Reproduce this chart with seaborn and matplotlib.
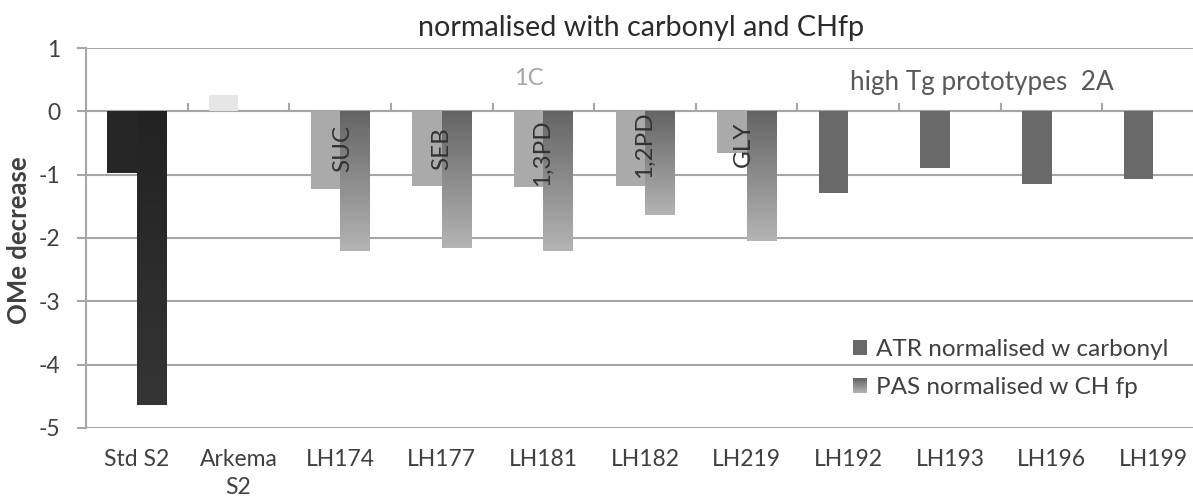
import numpy as np
import pandas as pd
import matplotlib
matplotlib.use("Agg")
import matplotlib.pyplot as plt
import seaborn as sns
from matplotlib.patches import Rectangle
from matplotlib.legend_handler import HandlerBase
from matplotlib.colors import LinearSegmentedColormap

# ---------------- data ----------------
samples = ["Std S2", "Arkema\nS2", "LH174", "LH177", "LH181", "LH182", "LH219",
           "LH192", "LH193", "LH196", "LH199"]
atr_values = [-0.97, 0.26, -1.22, -1.18, -1.19, -1.18, -0.66, -1.29, -0.89, -1.15, -1.07]
pas_values = [-4.63, np.nan, -2.20, -2.16, -2.20, -1.64, -2.05, np.nan, np.nan, np.nan, np.nan]
series_names = ["ATR normalised w carbonyl", "PAS normalised w CH fp"]
diol_labels = ["", "", "SUC", "SEB", "1,3PD", "1,2PD", "GLY", "", "", "", ""]
y_ticks = [1, 0, -1, -2, -3, -4, -5]

# ---------------- style ----------------
atr_colors = ["#262626", "#E6E6E6"] + ["#AAAAAA"] * 5 + ["#696969"] * 4
pas_grad = {0: ("#222222", "#353535")}
pas_grad_default = ("#646464", "#B4B4B4")
diol_label_base = [None, None, -0.95, -0.93, -1.18, -1.06, -0.88]
diol_label_dx = [0, 0, 0.03, 0.0, -0.01, -0.01, -0.03]
grid_c = "#A6A6A6"
txt_c = "#404040"
FONT = "Lato"
FS_TICK = 16.5
FS_TITLE = 20.7
FS_LEG = 17.5
FS_YLAB = 18.5
FS_DIOL = 17.5

sns.set_theme(style="white")
plt.rcParams["font.family"] = [FONT, "DejaVu Sans"]

df = pd.DataFrame({
    "sample": samples * 2,
    "value": atr_values + pas_values,
    "series": [series_names[0]] * len(samples) + [series_names[1]] * len(samples),
})

fig = plt.figure(figsize=(11.93, 5.04), dpi=100)
ax = fig.add_axes([86 / 1193, 76 / 504, 1118 / 1193, 380 / 504])

sns.barplot(data=df, x="sample", y="value", hue="series", order=samples,
            hue_order=series_names, width=0.58, gap=0, dodge=True,
            errorbar=None, saturation=1, legend=False, ax=ax,
            palette=["#696969", "#888888"])

ax.set_xlim(-0.5, len(samples) - 0.5)
ax.set_ylim(-5, 1)

# recolor bars per point
for bar in ax.containers[0]:
    i = int(round(bar.get_x() + bar.get_width() / 2))
    bar.set_facecolor(atr_colors[i])
    bar.set_edgecolor("none")
    bar.set_zorder(3)

for bar in ax.containers[1]:
    h = bar.get_height()
    if not np.isfinite(h) or h == 0:
        continue
    i = int(round(bar.get_x() + bar.get_width() / 2))
    c0, c1 = pas_grad.get(i, pas_grad_default)
    cmap = LinearSegmentedColormap.from_list("g%d" % i, [c0, c1])
    bar.set_facecolor("none")
    bar.set_edgecolor("none")
    x0 = bar.get_x()
    y0 = bar.get_y()
    top = max(y0, y0 + h)
    bot = min(y0, y0 + h)
    grad = np.linspace(0, 1, 256).reshape(-1, 1)
    im = ax.imshow(grad, cmap=cmap, aspect="auto", origin="upper",
                   extent=[x0, x0 + bar.get_width(), bot, top], zorder=3,
                   interpolation="bilinear")
    im.set_clip_path(bar)

ax.set_xlim(-0.5, len(samples) - 0.5)
ax.set_ylim(-5, 1)

# axes styling
ax.set_yticks(y_ticks)
ax.set_yticklabels([str(t) for t in y_ticks])
ax.yaxis.grid(True, color=grid_c, lw=1.5)
ax.set_axisbelow(True)
for s in ["top", "right", "bottom"]:
    ax.spines[s].set_visible(False)
ax.spines["left"].set_color(grid_c)
ax.spines["left"].set_linewidth(1.5)
ax.tick_params(axis="y", direction="out", length=6.5, width=1.5, color=grid_c,
               labelsize=FS_TICK, labelcolor=txt_c, pad=12, left=True)
ax.tick_params(axis="x", length=0, labelsize=FS_TICK, labelcolor=txt_c, pad=15)
for lab in ax.get_xticklabels():
    lab.set_linespacing(1.45)
ax.set_xlabel("")
ax.set_ylabel("OMe decrease", fontsize=FS_YLAB, fontweight="bold", color=txt_c)
ax.yaxis.set_label_coords(-0.049, 0.495)

# category axis crossing at zero
zero_pos = (0 - (-5)) / (1 - (-5))
sec = ax.secondary_xaxis(zero_pos)
sec.set_xticks(np.arange(0.5, len(samples), 1.0))
sec.set_xticklabels([])
sec.tick_params(direction="out", length=6, width=1.5, color=grid_c)
for s in sec.spines.values():
    s.set_color(grid_c)
    s.set_linewidth(1.5)

# diol labels
for i, lab in enumerate(diol_labels):
    if lab:
        ax.text(i + diol_label_dx[i], diol_label_base[i], lab, rotation=90,
                ha="center", va="bottom", fontsize=FS_DIOL, color="#333333", zorder=5)

ax.text(3.86, 0.52, "1C", ha="center", va="center", fontsize=17, color="#A6A6A6")
ax.text(8.31, 0.46, "high Tg prototypes  2A", ha="center", va="center",
        fontsize=18.8, color="#595959")

fig.text(641.5 / 1193, 1 - 28 / 504, "normalised with carbonyl and CHfp",
         ha="center", va="center", fontsize=FS_TITLE, color="#2b2b2b")


class GradientHandler(HandlerBase):
    def __init__(self, c0, c1, n=24):
        super().__init__()
        self.cmap = LinearSegmentedColormap.from_list("lg", [c0, c1])
        self.n = n

    def create_artists(self, legend, orig_handle, xdescent, ydescent,
                       width, height, fontsize, trans):
        arts = []
        for k in range(self.n):
            y = -ydescent + height * (1 - (k + 1) / self.n)
            arts.append(Rectangle((-xdescent, y), width, height / self.n + 0.2,
                                  facecolor=self.cmap(k / (self.n - 1)),
                                  edgecolor="none", transform=trans))
        return arts


h_atr = Rectangle((0, 0), 1, 1, facecolor="#696969", edgecolor="none")
h_pas = Rectangle((0, 0), 1, 1, facecolor="#888888", edgecolor="none")
leg = ax.legend([h_atr, h_pas], series_names,
                handler_map={h_pas: GradientHandler("#646464", "#B4B4B4")},
                loc="upper left", bbox_to_anchor=(853 / 1193, 1 - 339 / 504),
                bbox_transform=fig.transFigure, frameon=False, fontsize=FS_LEG,
                handlelength=0.58, handleheight=0.58, handletextpad=0.35,
                labelspacing=0.72, borderpad=0, borderaxespad=0)
for t in leg.get_texts():
    t.set_color(txt_c)

fig.savefig("out.png", dpi=100)
